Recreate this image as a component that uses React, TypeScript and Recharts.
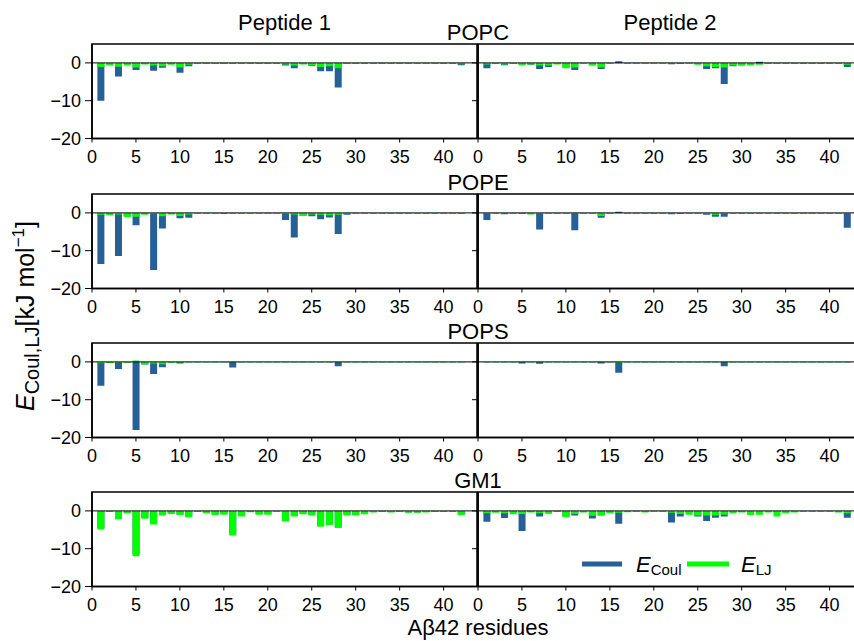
import React from "react";
import { BarChart, Bar, XAxis, YAxis, ReferenceLine, ReferenceArea } from "recharts";

// residue numbers of Aβ42
const residues = [
  1, 2, 3, 4, 5, 6, 7, 8, 9, 10, 11, 12, 13, 14, 15, 16, 17, 18, 19, 20, 21,
  22, 23, 24, 25, 26, 27, 28, 29, 30, 31, 32, 33, 34, 35, 36, 37, 38, 39, 40, 41, 42,
];
const xTicks = [0, 5, 10, 15, 20, 25, 30, 35, 40];
const yTicks = [-20, -10, 0];

// POPC
const popcCoulP1 = [-10.0, -0.5, -3.6, -0.3, -1.9, -0.3, -2.1, -1.3, -0.3, -2.6, -0.9, -0.2, -0.2, -0.2, -0.2, -0.1, -0.2, -0.1, -0.1, -0.1, -0.1, -0.7, -1.4, -0.2, -0.8, -2.2, -2.2, -6.5, -0.1, -0.1, -0.1, -0.1, -0.1, -0.1, -0.1, -0.1, -0.1, -0.1, -0.1, -0.1, -0.1, -0.6];
const popcLjP1 = [-1.1, -0.7, -1.0, -0.7, -1.2, -0.4, -0.7, -0.9, -0.5, -1.2, -0.5, -0.3, -0.3, -0.3, -0.3, -0.3, -0.3, -0.3, -0.3, -0.3, -0.3, -0.4, -0.7, -0.4, -0.7, -1.1, -0.9, -1.4, -0.3, -0.3, -0.3, -0.3, -0.3, -0.3, -0.3, -0.3, -0.3, -0.3, -0.3, -0.3, -0.3, -0.35];
const popcCoulP2 = [-1.4, -0.2, -0.6, -0.2, -0.5, -0.5, -1.6, -1.1, -0.2, -1.2, -1.9, -0.1, -0.6, -1.6, -0.1, 0.45, -0.1, -0.1, -0.1, -0.1, -0.1, -0.35, -0.3, -0.1, -0.3, -1.6, -1.4, -5.6, -0.9, -0.7, -0.5, 0.3, -0.1, -0.1, -0.1, -0.1, -0.1, -0.1, -0.1, -0.1, -0.1, -1.1];
const popcLjP2 = [-0.4, -0.3, -0.4, -0.3, -0.6, -0.4, -0.7, -0.7, -0.4, -1.4, -1.2, -0.2, -0.7, -1.2, -0.2, -0.1, -0.2, -0.2, -0.2, -0.2, -0.2, -0.2, -0.2, -0.2, -0.5, -0.9, -1.1, -1.2, -0.7, -0.6, -0.7, -0.5, -0.3, -0.3, -0.3, -0.3, -0.3, -0.3, -0.3, -0.3, -0.3, -0.5];

// POPE
const popeCoulP1 = [-13.5, -0.3, -11.4, -0.9, -3.3, -0.2, -15.1, -4.1, -0.2, -1.4, -1.3, -0.1, -0.1, -0.1, -0.3, -0.1, -0.1, -0.1, -0.1, -0.1, -0.1, -1.9, -6.5, -0.8, -0.9, -1.7, -1.2, -5.6, -0.5, -0.1, -0.1, -0.1, -0.1, -0.1, -0.1, -0.1, -0.1, -0.1, -0.1, -0.1, -0.1, -0.2];
const popeLjP1 = [-0.5, -0.6, -0.4, -1.1, -1.0, -0.5, -0.3, -0.9, -0.4, -0.8, -0.4, -0.2, -0.2, -0.2, -0.2, -0.2, -0.2, -0.2, -0.2, -0.2, -0.2, -0.3, -0.4, -0.8, -0.4, -0.5, -0.6, -0.5, -0.3, -0.2, -0.2, -0.2, -0.2, -0.2, -0.2, -0.2, -0.2, -0.2, -0.2, -0.2, -0.2, -0.3];
const popeCoulP2 = [-1.9, -0.1, -0.35, -0.1, -0.3, -0.1, -4.4, -0.1, -0.1, -0.1, -4.6, -0.1, -0.1, -1.3, -0.1, 0.3, -0.1, -0.1, -0.1, -0.1, -0.1, -0.35, -0.3, -0.1, -0.1, -0.5, -1.0, -1.0, -0.1, -0.1, -0.1, -0.1, -0.1, -0.1, -0.1, -0.1, -0.1, -0.1, -0.1, -0.1, -0.1, -3.9];
const popeLjP2 = [-0.2, -0.2, -0.2, -0.2, -0.2, -0.4, -0.2, -0.2, -0.2, -0.2, -0.2, -0.2, -0.2, -0.8, -0.2, -0.1, -0.2, -0.2, -0.2, -0.2, -0.2, -0.2, -0.2, -0.2, -0.2, -0.3, -0.5, -0.3, -0.2, -0.2, -0.2, -0.2, -0.2, -0.2, -0.2, -0.2, -0.2, -0.2, -0.2, -0.2, -0.2, -0.2];

// POPS
const popsCoulP1 = [-6.3, -0.1, -1.9, -0.1, -18.0, -0.7, -3.2, -1.4, -0.1, -0.45, -0.1, -0.1, -0.1, -0.1, -0.1, -1.5, -0.1, -0.1, -0.1, -0.1, -0.1, -0.1, -0.1, -0.1, -0.1, -0.1, -0.1, -1.15, -0.1, -0.1, -0.1, -0.1, -0.1, -0.1, -0.1, -0.1, -0.1, -0.1, -0.1, -0.1, -0.1, -0.1];
const popsLjP1 = [-0.35, -0.3, -0.2, -0.2, 0.4, -0.6, -0.4, -0.6, -0.2, -0.2, -0.1, -0.1, -0.1, -0.1, -0.1, -0.1, -0.1, -0.1, -0.1, -0.1, -0.1, -0.1, -0.1, -0.1, -0.1, -0.1, -0.1, -0.1, -0.1, -0.1, -0.1, -0.1, -0.1, -0.1, -0.1, -0.1, -0.1, -0.1, -0.1, -0.1, -0.1, -0.1];
const popsCoulP2 = [-0.1, -0.1, -0.1, -0.1, -0.45, -0.1, -0.5, -0.1, -0.1, -0.1, -0.1, -0.1, -0.1, -0.45, -0.1, -2.9, -0.1, -0.1, -0.1, -0.1, -0.1, -0.1, -0.1, -0.1, -0.1, -0.1, -0.1, -1.15, -0.1, -0.1, -0.1, -0.1, -0.1, -0.1, -0.1, -0.1, -0.1, -0.1, -0.1, -0.1, -0.1, -0.1];
const popsLjP2 = [-0.1, -0.1, -0.1, -0.1, -0.1, -0.1, -0.1, -0.1, -0.1, -0.1, -0.1, -0.1, -0.1, -0.1, -0.1, -0.2, -0.1, -0.1, -0.1, -0.1, -0.1, -0.1, -0.1, -0.1, -0.1, -0.1, -0.1, -0.1, -0.1, -0.1, -0.1, -0.1, -0.1, -0.1, -0.1, -0.1, -0.1, -0.1, -0.1, -0.1, -0.1, -0.1];

// GM1
const gm1CoulP1 = [-4.6, -0.2, -2.0, -0.5, -11.5, -1.9, -3.3, -1.0, -0.6, -0.9, -1.5, -0.2, -0.5, -0.9, -0.8, -6.0, -1.3, -0.3, -0.8, -0.8, -0.1, -2.5, -1.3, -0.7, -1.0, -3.9, -3.4, -4.2, -1.0, -1.0, -0.7, -0.3, -0.2, -0.3, -0.2, -0.4, -0.4, -0.3, -0.2, -0.2, -0.2, -0.9];
const gm1LjP1 = [-4.9, -0.3, -2.2, -0.6, -12.0, -2.1, -3.6, -1.2, -0.8, -1.1, -1.7, -0.3, -0.6, -1.1, -1.0, -6.5, -1.5, -0.35, -1.0, -1.0, -0.2, -2.8, -1.5, -0.9, -1.2, -4.2, -3.7, -4.5, -1.2, -1.2, -0.9, -0.45, -0.3, -0.45, -0.3, -0.5, -0.5, -0.45, -0.3, -0.3, -0.3, -1.1];
const gm1CoulP2 = [-2.9, -0.2, -1.9, -0.4, -5.3, -0.2, -1.5, -0.7, -0.1, -1.5, -1.2, -0.2, -2.0, -1.2, -0.2, -3.4, -0.1, -0.1, -0.2, -0.1, -0.1, -3.1, -1.5, -0.5, -1.5, -2.7, -1.8, -1.5, -0.2, -0.2, -0.3, -0.3, -0.1, -0.3, -0.2, -0.1, -0.1, -0.1, -0.1, -0.1, -0.1, -1.8];
const gm1LjP2 = [-0.6, -0.5, -0.6, -0.9, -0.8, -0.45, -0.6, -0.6, -0.3, -1.7, -0.8, -0.45, -1.3, -1.1, -0.6, -0.5, -0.35, -0.2, -0.45, -0.2, -0.2, -0.5, -0.8, -1.0, -1.2, -1.2, -1.2, -1.0, -0.6, -0.45, -1.1, -1.0, -0.45, -1.5, -0.6, -0.45, -0.2, -0.2, -0.2, -0.2, -0.45, -0.6];

const membranes = ["POPC", "POPE", "POPS", "GM1"];
const coulP1 = [popcCoulP1, popeCoulP1, popsCoulP1, gm1CoulP1];
const ljP1 = [popcLjP1, popeLjP1, popsLjP1, gm1LjP1];
const coulP2 = [popcCoulP2, popeCoulP2, popsCoulP2, gm1CoulP2];
const ljP2 = [popcLjP2, popeLjP2, popsLjP2, gm1LjP2];

const BLUE = "#266096";
const GREEN = "#00ff00";
const FONT = "'Liberation Sans', Arial, sans-serif";

const rowTops = [44, 193.5, 343, 492];
const PLOT_H = 94.5;
const PLOT_W = 385;
const X_MAX = 43.8;

const minus = (v: number) => String(v).replace("-", "\u2212");

function Panel({ coul, lj, side, top }: { coul: number[]; lj: number[]; side: "left" | "right"; top: number }) {
  const left = side === "left";
  const data = residues.map((r, i) => ({ r, coul: coul[i], lj: lj[i] }));
  const yW = left ? 52 : 8;
  const chartLeft = left ? 92 - yW : 478 - yW;
  const width = yW + PLOT_W + 2;

  return (
    <div style={{ position: "absolute", left: chartLeft, top: top - 2 }}>
      <BarChart width={width} height={PLOT_H + 2 + 30} data={data} margin={{ top: 2, right: 2, left: 0, bottom: 0 }}>
        <XAxis
          xAxisId="main"
          dataKey="r"
          type="number"
          domain={[0, X_MAX]}
          ticks={xTicks}
          allowDataOverflow
          height={30}
          tickSize={4}
          tickMargin={8}
          tick={{ fontSize: 18, fill: "#000" }}
          axisLine={{ stroke: "#000", strokeWidth: 1.5 }}
          tickLine={{ stroke: "#000" }}
        />
        {/* second, hidden axis so the LJ bars sit on top of the Coulomb bars */}
        <XAxis xAxisId="lj" dataKey="r" type="number" domain={[0, X_MAX]} allowDataOverflow hide height={0} />
        <YAxis
          domain={[-20, 5]}
          ticks={yTicks}
          allowDataOverflow
          width={yW}
          tickSize={left ? 7 : 6}
          tickMargin={4}
          tick={left ? { fontSize: 18, fill: "#000" } : () => <g />}
          tickFormatter={minus}
          axisLine={{ stroke: "#000", strokeWidth: 1.5 }}
          tickLine={{ stroke: "#000" }}
        />
        <ReferenceArea xAxisId="main" x1={0} x2={X_MAX} y1={-20} y2={5} fill="none" stroke="#000" strokeWidth={1.5} />
        <ReferenceLine xAxisId="main" y={0} stroke="#000" strokeWidth={1} />
        <Bar xAxisId="main" dataKey="coul" fill={BLUE} barSize={7} isAnimationActive={false} />
        <Bar xAxisId="lj" dataKey="lj" fill={GREEN} barSize={7} isAnimationActive={false} />
      </BarChart>
    </div>
  );
}

export default function App() {
  return (
    <div
      style={{
        position: "absolute",
        left: 0,
        top: 0,
        width: 854,
        height: 641,
        overflow: "hidden",
        background: "#fff",
        fontFamily: FONT,
      }}
    >
      {membranes.map((m, i) => (
        <React.Fragment key={m}>
          <Panel coul={coulP1[i]} lj={ljP1[i]} side="left" top={rowTops[i]} />
          <Panel coul={coulP2[i]} lj={ljP2[i]} side="right" top={rowTops[i]} />
        </React.Fragment>
      ))}

      <svg width={854} height={641} style={{ position: "absolute", left: 0, top: 0, pointerEvents: "none" }} fontFamily={FONT}>
        <text x={284.5} y={30} fontSize={22} textAnchor="middle">Peptide 1</text>
        <text x={670} y={30} fontSize={22} textAnchor="middle">Peptide 2</text>
        {membranes.map((m, i) => (
          <text key={m} x={478} y={rowTops[i] - 4} fontSize={22} textAnchor="middle">{m}</text>
        ))}
        <text x={478} y={635} fontSize={22} textAnchor="middle">Aβ42 residues</text>
        <text transform="translate(34, 316) rotate(-90)" fontSize={25} textAnchor="middle">
          <tspan fontStyle="italic">E</tspan>
          <tspan fontSize={20} dy={5}>Coul,LJ</tspan>
          <tspan dy={-5}>[kJ mol</tspan>
          <tspan fontSize={17} dy={-10}>{"\u22121"}</tspan>
          <tspan dy={10}>]</tspan>
        </text>

        {/* legend */}
        <line x1={582} x2={622} y1={564} y2={564} stroke={BLUE} strokeWidth={5} />
        <text x={636} y={572} fontSize={22}>
          <tspan fontStyle="italic">E</tspan>
          <tspan fontSize={15} dy={3}>Coul</tspan>
        </text>
        <line x1={687} x2={729} y1={564} y2={564} stroke={GREEN} strokeWidth={5} />
        <text x={741} y={572} fontSize={22}>
          <tspan fontStyle="italic">E</tspan>
          <tspan fontSize={15} dy={3}>LJ</tspan>
        </text>
      </svg>
    </div>
  );
}
